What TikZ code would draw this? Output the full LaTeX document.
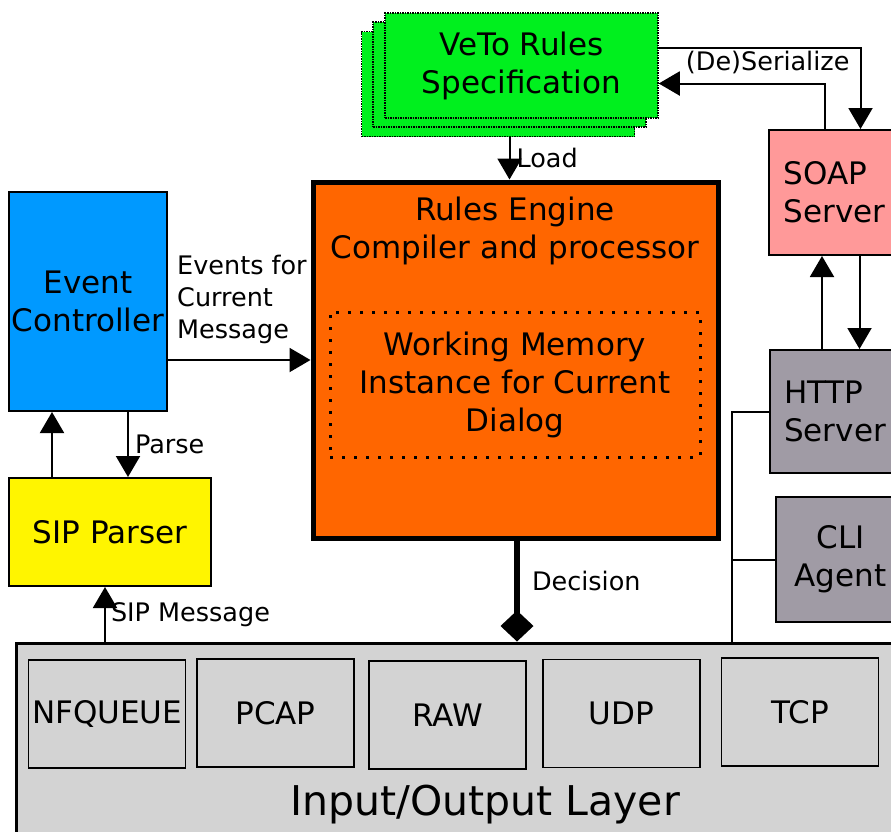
\documentclass[tikz,border=0pt]{standalone}
\usepackage{fontspec}
\setmainfont{DejaVu Sans}
\usetikzlibrary{arrows.meta}
\definecolor{rulesgreen}{RGB}{0,240,30}
\definecolor{engineorange}{RGB}{255,102,0}
\definecolor{ctrlblue}{RGB}{0,153,255}
\definecolor{parseryellow}{RGB}{255,245,0}
\definecolor{soappink}{RGB}{255,153,153}
\definecolor{srvgray}{RGB}{160,155,165}
\definecolor{iogray}{RGB}{211,211,211}
\newcommand\boxfont{\fontsize{31}{38}\selectfont}
\newcommand\labfont{\fontsize{25.5}{32}\selectfont}
\newcommand\iofont{\fontsize{41}{48}\selectfont}
\tikzset{
  blk/.style={draw, line width=2pt, inner sep=0pt, align=center, font=\boxfont},
  sheet/.style={draw, line width=1.5pt, densely dotted, fill=rulesgreen,
    minimum width=273pt, minimum height=105pt, inner sep=0pt},
  iobox/.style={blk, line width=1.5pt, fill=iogray, minimum width=157pt, minimum height=108pt},
  arr/.style={line width=2pt, -{Triangle[length=21pt,width=24pt]}},
  lbl/.style={font=\labfont, inner sep=2pt, align=left}
}
\begin{document}
\begin{tikzpicture}[x=1pt,y=-1pt]
    \useasboundingbox (0,0) rectangle (891,831);
    \clip (0,0) rectangle (891,831);
    % rules specification (stacked sheets)
    \node[sheet] (rules3) at (498,84) {};
    \node[sheet] (rules2) at (509.5,74.5) {};
    \node[sheet, font=\boxfont, align=center] (rules) at (521.5,65.5) {VeTo Rules\\Specification};
    % engine
    \node[blk, line width=5pt, fill=engineorange, minimum width=405pt, minimum height=356pt] (engine) at (515.5,360) {};
    \node[font=\boxfont, align=center, inner sep=0pt] (engtitle) at (515,231) {Rules Engine\\Compiler and processor};
    \node[blk, line width=3pt, dash pattern=on 3pt off 9pt, minimum width=370pt, minimum height=145pt] (memory) at (515,384.5) {Working Memory\\Instance for Current\\Dialog};
    % left side
    \node[blk, fill=ctrlblue, minimum width=158pt, minimum height=219pt] (ctrl) at (88,301.5) {Event\\Controller};
    \node[blk, fill=parseryellow, minimum width=202pt, minimum height=108pt] (parser) at (110,532) {SIP Parser};
    % right side
    \node[blk, fill=soappink, align=left, minimum width=131pt, minimum height=125pt] (soap) at (834.5,192.5) {SOAP\\Server};
    \node[blk, fill=srvgray, align=left, minimum width=130pt, minimum height=123pt] (http) at (835,411.5) {HTTP\\Server};
    \node[blk, fill=srvgray, minimum width=129pt, minimum height=125pt] (cli) at (840.5,559.5) {CLI\\Agent};
    % input/output layer
    \node[blk, line width=3pt, fill=iogray, minimum width=889pt, minimum height=202pt] (io) at (460.5,744) {};
    \node[font=\iofont, inner sep=0pt] (iolabel) at (485,805) {Input/Output Layer};
    \node[iobox] (nfq) at (107,714) {NFQUEUE};
    \node[iobox] (pcap) at (275.5,713) {PCAP};
    \node[iobox] (raw) at (447.5,715) {RAW};
    \node[iobox] (udp) at (621.5,713.5) {UDP};
    \node[iobox] (tcp) at (800,712) {TCP};
    \coordinate (tap) at (732,643);
    % connectors
    \draw[arr] ([xshift=-6pt]engine.north |- rules3.south) -- ([xshift=-6pt]engine.north)
      node[lbl, midway, right, xshift=4pt] {Load};
    \draw[arr] ([yshift=18pt]rules.east) -| ([xshift=26pt]soap.north)
      node[lbl, pos=0.27, below, yshift=-1pt] {(De)Serialize};
    \draw[arr] ([xshift=-10pt]soap.north) |- ([yshift=-18pt]rules.east);
    \draw[arr] ([xshift=-13pt]http.north) -- ([xshift=-13pt]http.north |- soap.south);
    \draw[arr] ([xshift=25pt]soap.south) -- ([xshift=25pt]soap.south |- http.north);
    \draw[line width=2pt] (http.west) -| (tap);
    \draw[line width=2pt] (cli.west) -- (cli.west -| tap);
    \draw[arr] (engine.west -| ctrl.east) -- (engine.west);
    \node[lbl, anchor=south west] (evlabel) at ([xshift=7pt, yshift=14pt]engine.west -| ctrl.east) {Events for\\Current\\Message};
    \draw[arr] ([xshift=-58pt]parser.north) -- ([xshift=-58pt]parser.north |- ctrl.south);
    \draw[arr] ([xshift=40pt]ctrl.south) -- ([xshift=40pt]ctrl.south |- parser.north)
      node[lbl, midway, right, xshift=4pt] {Parse};
    \draw[arr] ([xshift=-5pt]parser.south |- io.north) -- ([xshift=-5pt]parser.south)
      node[lbl, midway, right, xshift=3pt] {SIP Message};
    \draw[line width=6pt, -{Diamond[length=31pt,width=33pt]}] ([xshift=1.5pt]engine.south) -- ([xshift=1.5pt]engine.south |- io.north)
      node[lbl, pos=0.4, right, xshift=10pt] {Decision};
  \end{tikzpicture}
\end{document}
